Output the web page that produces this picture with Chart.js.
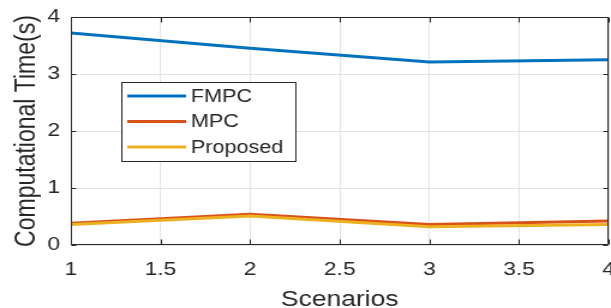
<!DOCTYPE html>
<html><head><meta charset="utf-8">
<script src="https://cdn.jsdelivr.net/npm/chart.js@4"></script>
<style>
html,body{margin:0;padding:0;background:#fff;overflow:hidden;width:611px;height:308px}
#wrap{width:509px;height:308px;transform:scaleX(1.2004);transform-origin:0 0}
</style></head><body>
<div id="wrap"><canvas id="c" width="509" height="308"></canvas></div>
<script>
const scenarios = [1, 2, 3, 4];
const fmpc = [3.72, 3.45, 3.21, 3.25];
const mpc = [0.38, 0.54, 0.36, 0.42];
const proposed = [0.36, 0.51, 0.32, 0.36];
const seriesNames = ['FMPC', 'MPC', 'Proposed'];
const seriesColors = ['#0072BD', '#D95319', '#EDB120'];
const xTicks = [1, 1.5, 2, 2.5, 3, 3.5, 4];
const xTickLabels = ['1', '1.5', '2', '2.5', '3', '3.5', '4'];
const yTicks = [0, 1, 2, 3, 4];
const yTickLabels = ['0', '1', '2', '3', '4'];
const xTitle = 'Scenarios';
const yTitle = 'Computational Time(s)';

const FONT = '"Liberation Sans", Arial, Helvetica, sans-serif';
const INK = '#262626';

const allSeries = [fmpc, mpc, proposed];
const datasets = allSeries.map((vals, i) => ({
  label: seriesNames[i],
  data: scenarios.map((s, j) => ({x: s, y: vals[j]})),
  borderColor: seriesColors[i],
  backgroundColor: seriesColors[i],
  borderWidth: 3,
  pointRadius: 0,
  tension: 0,
  fill: false,
  order: 2 - i
}));

const boxPlugin = {
  id: 'boxPlugin',
  afterDatasetsDraw(chart) {
    const {ctx, chartArea: a, scales: {x, y}} = chart;
    ctx.save();
    ctx.strokeStyle = INK;
    ctx.lineWidth = 1;
    const L = Math.round(a.left) + 0.5, R = Math.round(a.right) - 0.5;
    const T = Math.round(a.top) + 0.5, B = Math.round(a.bottom) - 0.5;
    ctx.beginPath();
    ctx.rect(L, T, R - L, B - T);
    for (const v of xTicks) {
      const px = Math.round(x.getPixelForValue(v)) + 0.5;
      ctx.moveTo(px, B); ctx.lineTo(px, B - 5);
      ctx.moveTo(px, T); ctx.lineTo(px, T + 5);
    }
    for (const v of yTicks) {
      const py = Math.round(y.getPixelForValue(v)) + 0.5;
      ctx.moveTo(L, py); ctx.lineTo(L + 4, py);
      ctx.moveTo(R, py); ctx.lineTo(R - 4, py);
    }
    ctx.stroke();

    // legend box
    const lx = a.left + 42, ly = a.top + 65, lw = 145, lh = 79;
    ctx.fillStyle = '#fff';
    ctx.fillRect(Math.round(lx) + 0.5, Math.round(ly) + 0.5, lw, lh);
    ctx.strokeRect(Math.round(lx) + 0.5, Math.round(ly) + 0.5, lw, lh);
    ctx.font = '18px ' + FONT;
    ctx.textBaseline = 'middle';
    ctx.textAlign = 'left';
    chart.data.datasets.forEach((ds, i) => {
      const ry = ly + 14 + i * 25.5;
      ctx.strokeStyle = ds.borderColor;
      ctx.lineWidth = 3;
      ctx.beginPath();
      ctx.moveTo(lx + 5, ry); ctx.lineTo(lx + 54, ry);
      ctx.stroke();
      ctx.fillStyle = INK;
      ctx.fillText(ds.label, lx + 58, ry + 1);
    });
    ctx.restore();
  }
};

new Chart(document.getElementById('c'), {
  type: 'line',
  data: {datasets},
  plugins: [boxPlugin],
  options: {
    responsive: false,
    animation: false,
    devicePixelRatio: 1,
    layout: {padding: {left: 0, right: 2, top: 17, bottom: 0}},
    plugins: {legend: {display: false}, tooltip: {enabled: false}, title: {display: false}},
    scales: {
      x: {
        type: 'linear', min: 1, max: 4,
        afterBuildTicks: s => { s.ticks = xTicks.map(v => ({value: v})); },
        afterFit: s => { s.height = 63; s.paddingLeft = 0; s.paddingRight = 0; },
        grid: {color: '#e3e3e3', lineWidth: 1, drawTicks: false},
        border: {display: false},
        ticks: {color: INK, font: {family: FONT, size: 19}, padding: 13, maxRotation: 0, autoSkip: false,
          callback: (v) => xTickLabels[xTicks.indexOf(v)]},
        title: {display: true, text: xTitle, color: INK, font: {family: FONT, size: 22, lineHeight: 0.75}, padding: {top: 0, bottom: 0}}
      },
      y: {
        type: 'linear', min: 0, max: 4,
        afterBuildTicks: s => { s.ticks = yTicks.map(v => ({value: v})); },
        afterFit: s => { s.width = 59; s.paddingTop = 0; s.paddingBottom = 0; },
        grid: {color: '#e3e3e3', lineWidth: 1, drawTicks: false},
        border: {display: false},
        ticks: {color: INK, font: {family: FONT, size: 19}, padding: 9,
          callback: (v) => yTickLabels[yTicks.indexOf(v)]},
        title: {display: true, text: yTitle, color: INK, font: {family: FONT, size: 23, lineHeight: 1.2}, padding: {top: 9, bottom: 0}}
      }
    }
  }
});
</script>
</body></html>
